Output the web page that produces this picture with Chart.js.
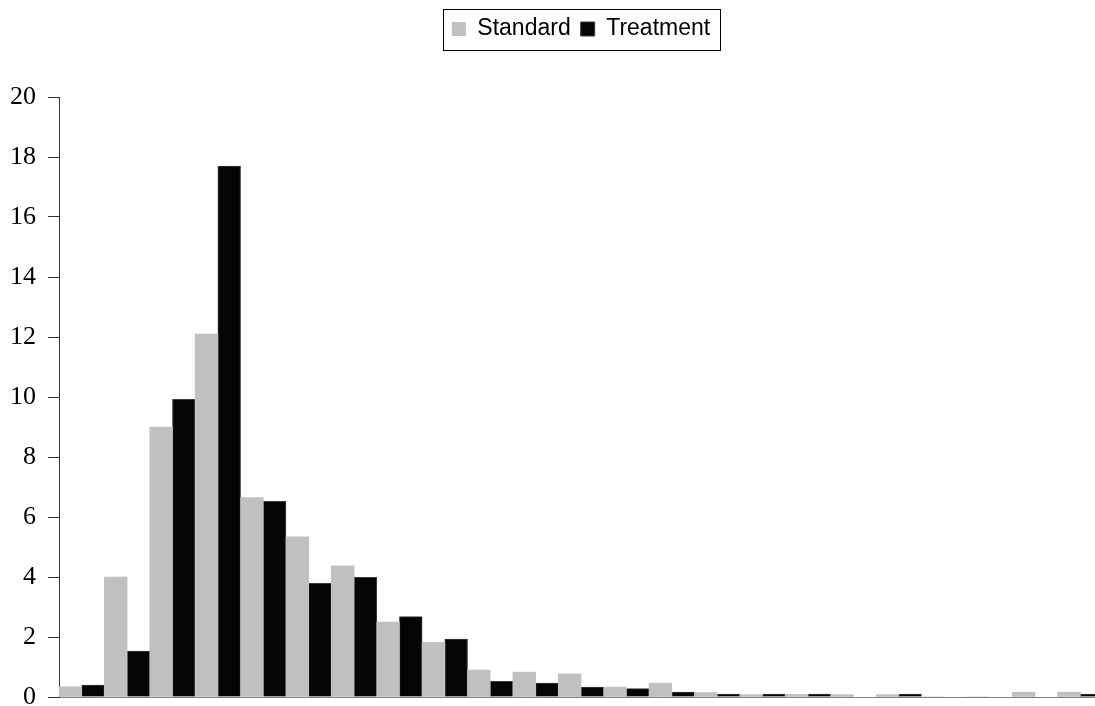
<!DOCTYPE html>
<html>
<head>
<meta charset="utf-8">
<script src="https://cdn.jsdelivr.net/npm/chart.js@4/dist/chart.umd.min.js"></script>
<style>
  html, body { margin: 0; padding: 0; background: #fff; overflow: hidden; }
  #wrap { width: 1103px; height: 706px; }
</style>
</head>
<body>
<div id="wrap"><canvas id="chart" width="1103" height="706"></canvas></div>
<script>
// Histogram bins (not labelled on the axis)
const bins = ['1', '2', '3', '4', '5', '6', '7', '8', '9', '10', '11', '12',
              '13', '14', '15', '16', '17', '18', '19', '20', '21', '22', '23'];

// Percentage of cases per bin
const standard  = [0.34, 4.0, 9.0, 12.1, 6.65, 5.34, 4.37, 2.5, 1.82, 0.9, 0.83, 0.77,
                   0.33, 0.46, 0.15, 0.08, 0.09, 0.08, 0.08, 0, 0, 0.16, 0.16];
const treatment = [0.4, 1.53, 9.92, 17.7, 6.52, 3.79, 3.99, 2.68, 1.93, 0.52, 0.46, 0.33,
                   0.28, 0.16, 0.1, 0.1, 0.1, 0, 0.1, 0, 0, 0, 0.1];

// Y axis range
const yMin = 0;
const yMax = 20;
const yStep = 2;

// Draws a thin frame around the legend items
const legendFrame = {
  id: 'legendFrame',
  afterDraw(chart) {
    const lg = chart.legend;
    if (!lg || !lg.legendHitBoxes || !lg.legendHitBoxes.length) return;
    const boxes = lg.legendHitBoxes;
    let l = Infinity, r = -Infinity, t = Infinity, b = -Infinity;
    boxes.forEach(h => {
      l = Math.min(l, h.left);
      r = Math.max(r, h.left + h.width);
      t = Math.min(t, h.top);
      b = Math.max(b, h.top + h.height);
    });
    const ctx = chart.ctx;
    ctx.save();
    ctx.strokeStyle = '#000';
    ctx.lineWidth = 1;
    ctx.strokeRect(Math.round(l - 9) + 0.5, Math.round(t - 9) + 0.5,
                   Math.round(r - l + 19), Math.round(b - t + 18));
    ctx.restore();
  }
};

new Chart(document.getElementById('chart'), {
  type: 'bar',
  data: {
    labels: bins,
    datasets: [
      {
        label: 'Standard',
        data: standard,
        backgroundColor: '#c0c0c0',
        borderWidth: 0,
        categoryPercentage: 1.0,
        barPercentage: 1.0
      },
      {
        label: 'Treatment',
        data: treatment,
        backgroundColor: '#050505',
        borderColor: '#3a3a3a',
        borderWidth: 1,
        borderSkipped: 'bottom',
        categoryPercentage: 1.0,
        barPercentage: 1.0
      }
    ]
  },
  options: {
    responsive: false,
    animation: false,
    layout: { padding: { top: 7.5, bottom: 9, left: 0, right: 0 } },
    plugins: {
      legend: {
        display: true,
        position: 'top',
        fullSize: false,
        labels: {
          boxWidth: 14,
          boxHeight: 14,
          padding: 10,
          color: '#000',
          font: { family: "'Liberation Sans', Arial, sans-serif", size: 23 }
        }
      },
      // empty spacer between the legend and the plot
      title: {
        display: true,
        text: ' ',
        weight: 500,
        font: { size: 1, lineHeight: 1 },
        padding: { top: 0, bottom: 45.5 }
      },
      tooltip: { enabled: false }
    },
    scales: {
      x: {
        grid: { display: false, drawTicks: false },
        ticks: { display: false },
        border: { display: true, color: '#808080', width: 1 }
      },
      y: {
        min: yMin,
        max: yMax,
        ticks: {
          stepSize: yStep,
          color: '#000',
          padding: 12,
          font: { family: "'Liberation Serif', 'Times New Roman', serif", size: 26 }
        },
        grid: {
          display: true,
          drawOnChartArea: false,
          drawTicks: true,
          tickLength: 11,
          color: '#333'
        },
        border: { display: true, color: '#333', width: 1 },
        afterFit(scale) {
          scale.width = 59;
          scale.paddingTop = 0;
          scale.paddingBottom = 0;
        }
      }
    }
  },
  plugins: [legendFrame]
});
</script>
</body>
</html>
